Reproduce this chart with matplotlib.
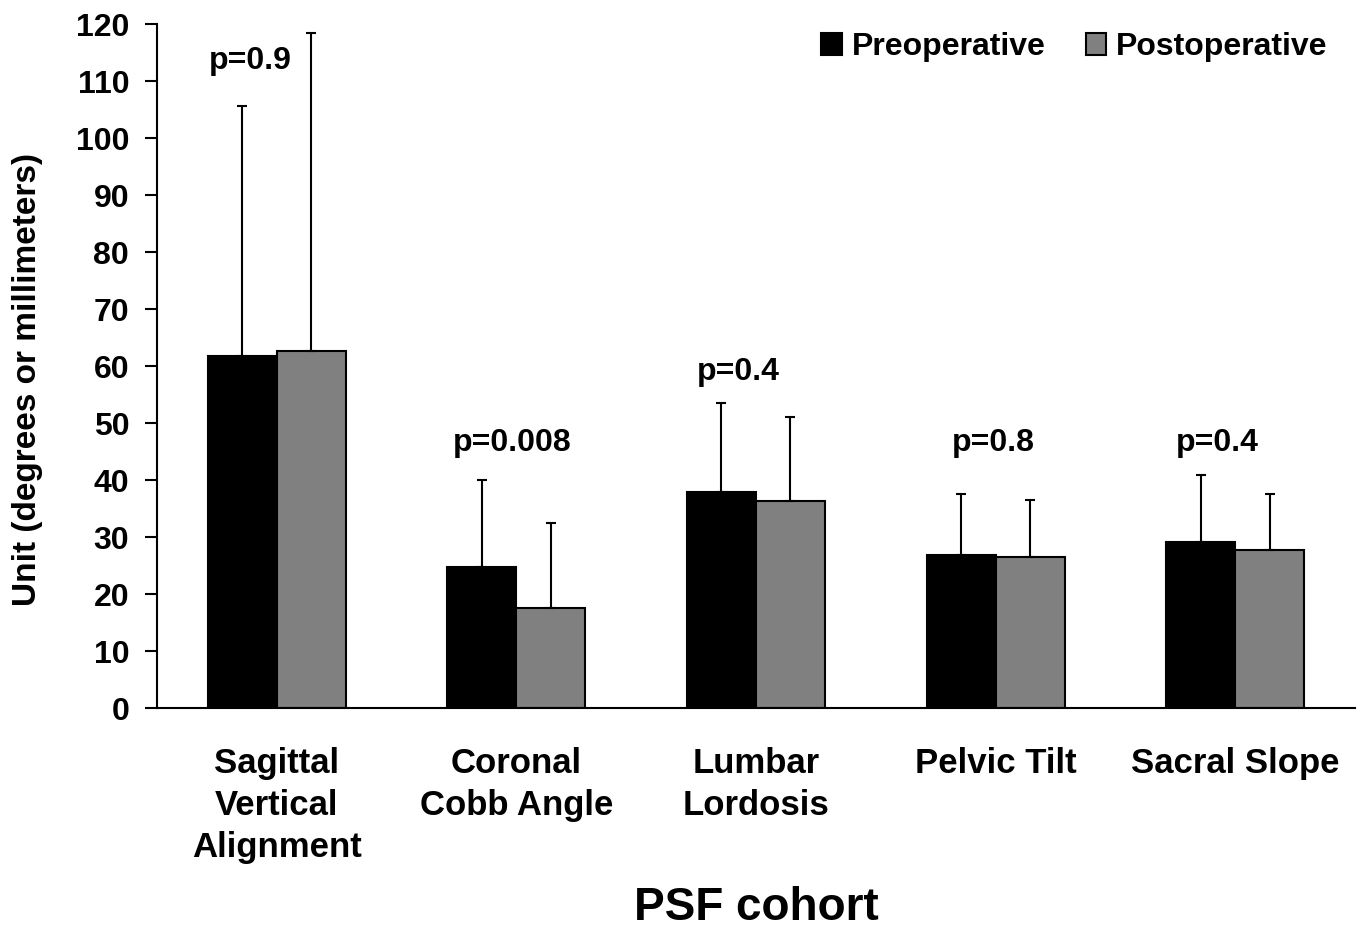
import numpy as np
import matplotlib
matplotlib.use("Agg")
from matplotlib import pyplot as plt

plt.rcParams['font.family'] = ['Liberation Sans', 'DejaVu Sans']
plt.rcParams['font.weight'] = 'bold'

categories = ["Sagittal\nVertical\nAlignment", "Coronal\nCobb Angle",
              "Lumbar\nLordosis", "Pelvic Tilt", "Sacral Slope"]
preop = [61.7, 24.8, 37.9, 26.9, 29.2]
preop_sd = [43.9, 15.2, 15.7, 10.7, 11.7]
postop = [62.6, 17.6, 36.3, 26.5, 27.8]
postop_sd = [55.9, 14.9, 14.7, 10.0, 9.8]
p_values = ["p=0.9", "p=0.008", "p=0.4", "p=0.8", "p=0.4"]
p_heights = [113.5, 46.5, 59, 46.5, 46.5]

fig = plt.figure(figsize=(13.63, 9.31), dpi=100)
ax = fig.add_axes([0.1152, 0.2395, 0.8789, 0.7347])

x = np.arange(len(categories))
w = 0.288
err_kw = dict(elinewidth=1.5, capthick=1.5, ecolor='black')
ax.bar(x - w/2, preop, w, color='black', edgecolor='black', linewidth=1.5,
       yerr=[np.zeros(5), preop_sd], capsize=3.6, error_kw=err_kw, label='Preoperative')
ax.bar(x + w/2, postop, w, color='#808080', edgecolor='black', linewidth=1.5,
       yerr=[np.zeros(5), postop_sd], capsize=3.6, error_kw=err_kw, label='Postoperative')

# p-value labels sit a little left of each group centre
p_shift = [-0.11, -0.017, -0.073, -0.01, -0.073]
for i, (txt, h) in enumerate(zip(p_values, p_heights)):
    ax.text(i + p_shift[i], h, txt, ha='center', va='center', fontsize=23, fontweight='bold')

ax.set_xlim(-0.5, 4.5)
ax.set_ylim(0, 120)
ax.set_yticks(np.arange(0, 121, 10))
ax.set_xticks(x)
ax.set_xticklabels(categories, fontsize=25, fontweight='bold', linespacing=1.34, va='top')
ax.tick_params(axis='x', length=0, pad=28)
ax.tick_params(axis='y', length=9, width=1.5, pad=11, labelsize=23)
for lab in ax.get_yticklabels():
    lab.set_fontweight('bold')

for s in ['top', 'right']:
    ax.spines[s].set_visible(False)
for s in ['left', 'bottom']:
    ax.spines[s].set_linewidth(1.5)

ax.set_ylabel("Unit (degrees or millimeters)", fontsize=24, fontweight='bold')
ax.yaxis.set_label_coords(-0.095, 0.48)
ax.set_xlabel("PSF cohort", fontsize=33, fontweight='bold', labelpad=16)

ax.legend(loc='upper right', bbox_to_anchor=(1.001, 1.03), ncol=2, frameon=False,
          handlelength=0.65, handleheight=0.65, handletextpad=0.3,
          columnspacing=1.25, prop={'weight': 'bold', 'size': 23})

fig.savefig("out.png", dpi=100)
